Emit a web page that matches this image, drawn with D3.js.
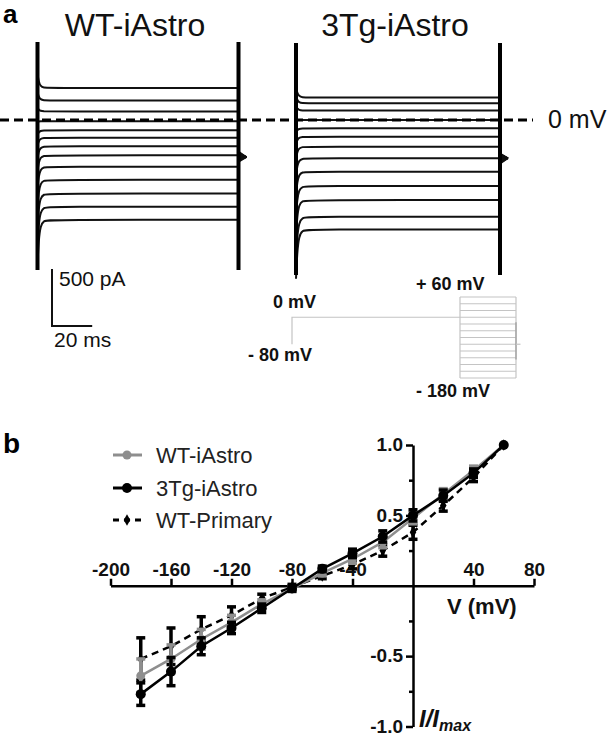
<!DOCTYPE html>
<html><head><meta charset="utf-8">
<script src="https://cdn.jsdelivr.net/npm/d3@7"></script>
<style>
body{margin:0;background:#fff}
svg{display:block}
text{font-family:Arial,'Liberation Sans',Helvetica,sans-serif}
</style>
</head><body>
<script>
// ---------- DATA ----------
// Panel a: steady-state current (pA, relative to the 0 mV dashed line) per voltage step
const stepVoltages = [60, 40, 20, 0, -20, -40, -60, -80, -100, -120, -140, -160, -180];
const wtTraceCurrents = [280, 170, 75, -10, -90, -155, -230, -310, -410, -525, -645, -760, -875];
const tgTraceCurrents = [197, 146, 83, 0, -73, -146, -234, -336, -453, -579, -702, -848, -960];
const holdCurrents = {wt: -325, tg: -335};
const panelTitles = ["WT-iAstro", "3Tg-iAstro"];
const protocolLevels = {hold: -80, pre: 0, top: 60, bottom: -180};

// Panel b: normalized I/V relation
const ivVoltages = [-180, -160, -140, -120, -100, -80, -60, -40, -20, 0, 20, 40, 60];
const wtIAstro    = [-0.64, -0.52, -0.38, -0.26, -0.13, -0.02, 0.09, 0.19, 0.31, 0.48, 0.65, 0.82, 1.0];
const wtIAstroErr = [0.12, 0.10, 0.07, 0.05, 0.03, 0.02, 0.02, 0.03, 0.04, 0.04, 0.04, 0.03, 0];
const tgIAstro    = [-0.77, -0.61, -0.43, -0.30, -0.16, -0.02, 0.12, 0.23, 0.35, 0.50, 0.64, 0.80, 1.0];
const tgIAstroErr = [0.08, 0.10, 0.06, 0.04, 0.03, 0.02, 0.02, 0.03, 0.04, 0.04, 0.04, 0.03, 0];
const wtPrimary    = [-0.52, -0.43, -0.31, -0.21, -0.09, -0.01, 0.07, 0.15, 0.25, 0.38, 0.57, 0.77, 1.0];
const wtPrimaryErr = [0.15, 0.13, 0.09, 0.06, 0.03, 0.02, 0.02, 0.03, 0.04, 0.05, 0.04, 0.03, 0];
const seriesNames = ["WT-iAstro", "3Tg-iAstro", "WT-Primary"];
const xTickValues = [-200, -160, -120, -80, -40, 40, 80];
const yTickValues = [1.0, 0.5, -0.5, -1.0];
const yMinorTickValues = [0.75, 0.25, -0.25, -0.75];

// ---------- SVG ----------
const W = 614, H = 736;
const svg = d3.select("body").append("svg").attr("width", W).attr("height", H);

// ================= PANEL a =================
const iScale = d3.scaleLinear().domain([0, 500]).range([120, 63]); // pA -> px
const panels = [
  {name: panelTitles[0], cur: wtTraceCurrents, hold: holdCurrents.wt, t: d3.scaleLinear().domain([0, 100]).range([37.5, 238.5]), spike: [42, 270]},
  {name: panelTitles[1], cur: tgTraceCurrents, hold: holdCurrents.tg, t: d3.scaleLinear().domain([0, 100]).range([296, 500]), spike: [43, 275]}
];
// shape of the capacitive settling at step onset (rendering only)
const shapeT = [0, 0.6, 1.5, 3, 6, 100];
const shapeK = [1.45, 1.2, 1.06, 1.01, 1, 1];

const ga = svg.append("g");
ga.append("text").attr("x", 3).attr("y", 23).attr("font-size", 26).attr("font-weight", "bold").text("a");

panels.forEach(p => {
  ga.append("text").attr("x", (p.t(0) + p.t(100)) / 2 - 3).attr("y", 36)
    .attr("text-anchor", "middle").attr("font-size", 32).attr("fill", "#111").text(p.name);
  const line = d3.line().x(d => p.t(d[0])).y(d => iScale(d[1])).curve(d3.curveBasis);
  p.cur.forEach(I => {
    const pts = shapeT.map((tt, i) => [tt, I * shapeK[i]]);
    ga.append("path").attr("d", line(pts)).attr("fill", "none")
      .attr("stroke", "#111").attr("stroke-width", 2);
    // tail current converging to holding current
    const yI = iScale(I), yH = iScale(p.hold);
    ga.append("line").attr("x1", p.t(100) + 1).attr("x2", p.t(100) + 8)
      .attr("y1", yH + (yI - yH) * 0.07).attr("y2", yH)
      .attr("stroke", "#111").attr("stroke-width", 1.6);
  });
  // capacitive spikes
  [0, 100].forEach(tt => {
    ga.append("line").attr("x1", p.t(tt)).attr("x2", p.t(tt))
      .attr("y1", p.spike[0]).attr("y2", p.spike[1])
      .attr("stroke", "#000").attr("stroke-width", 4);
  });
});

// 0 mV dashed line
ga.append("line").attr("x1", 0).attr("x2", 533).attr("y1", iScale(0)).attr("y2", iScale(0))
  .attr("stroke", "#000").attr("stroke-width", 3).attr("stroke-dasharray", "9,5");
ga.append("text").attr("x", 548).attr("y", 128).attr("font-size", 25).attr("fill", "#111").text("0 mV");

// scale bar: 500 pA, 20 ms
const sbX = 52, sbY = 326;
const msPx = panels[0].t(20) - panels[0].t(0);
ga.append("path")
  .attr("d", `M${sbX},${sbY - (iScale(0) - iScale(500))}V${sbY}H${sbX + msPx}`)
  .attr("fill", "none").attr("stroke", "#111").attr("stroke-width", 2);
ga.append("text").attr("x", 59).attr("y", 286).attr("font-size", 21).attr("fill", "#111").text("500 pA");
ga.append("text").attr("x", 54).attr("y", 347).attr("font-size", 21).attr("fill", "#111").text("20 ms");

// voltage protocol inset
const pv = d3.scaleLinear().domain([protocolLevels.bottom, protocolLevels.top]).range([378, 297]);
const pt = d3.scaleLinear().domain([-300, 100]).range([292, 516]);
const gp = ga.append("g").attr("fill", "none").attr("stroke", "#c4c4c4").attr("stroke-width", 1.2);
gp.append("path").attr("d", `M${pt(-300)},${pv(protocolLevels.hold)}V${pv(protocolLevels.pre)}H${pt(0)}`);
gp.append("line").attr("x1", pt(0)).attr("x2", pt(0)).attr("y1", pv(protocolLevels.top)).attr("y2", pv(protocolLevels.bottom));
gp.append("line").attr("x1", pt(100)).attr("x2", pt(100)).attr("y1", pv(protocolLevels.top)).attr("y2", pv(protocolLevels.bottom));
stepVoltages.forEach(v => {
  gp.append("line").attr("x1", pt(0)).attr("x2", pt(100)).attr("y1", pv(v)).attr("y2", pv(v));
});
gp.append("line").attr("x1", pt(100)).attr("x2", pt(100)).attr("y1", pv(-15)).attr("y2", pv(-125)).attr("stroke", "#999");
gp.append("line").attr("x1", pt(100)).attr("x2", pt(108)).attr("y1", pv(protocolLevels.hold)).attr("y2", pv(protocolLevels.hold));
const plab = [["0 mV", 273, 308], ["- 80 mV", 248, 361], ["+ 60 mV", 416, 290], ["- 180 mV", 416, 397]];
plab.forEach(d => ga.append("text").attr("x", d[1]).attr("y", d[2]).attr("font-size", 18)
  .attr("font-weight", "bold").attr("fill", "#111").text(d[0]));

// ================= PANEL b =================
const gb = svg.append("g");
gb.append("text").attr("x", 3).attr("y", 453).attr("font-size", 28).attr("font-weight", "bold").text("b");

const x = d3.scaleLinear().domain([-200, 80]).range([110.5, 534]);
const y = d3.scaleLinear().domain([-1, 1]).range([726.5, 445]);

const xAxis = gb.append("g").attr("transform", `translate(0,${y(0)})`)
  .call(d3.axisTop(x).tickValues(xTickValues).tickSize(7).tickSizeOuter(0).tickFormat(d => String(d)));
const yAxis = gb.append("g").attr("transform", `translate(${x(0)},0)`)
  .call(d3.axisLeft(y).tickValues(yTickValues).tickSize(7).tickSizeOuter(0).tickFormat(d => d.toFixed(1)));
const yMinor = gb.append("g").attr("transform", `translate(${x(0)},0)`)
  .call(d3.axisLeft(y).tickValues(yMinorTickValues).tickSize(4).tickSizeOuter(0).tickFormat(""));
yMinor.select(".domain").remove();
[xAxis, yAxis, yMinor].forEach(g => {
  g.selectAll(".domain").attr("stroke", "#000").attr("stroke-width", 2.5);
  g.selectAll(".tick line").attr("stroke", "#000").attr("stroke-width", 2.5);
  g.selectAll(".tick text").attr("font-size", 19).attr("font-weight", "bold").attr("fill", "#111")
    .attr("font-family", "Arial,'Liberation Sans',sans-serif");
});
yAxis.selectAll(".tick text").attr("dy", "0.3em");

gb.append("text").attr("x", 447).attr("y", 614).attr("font-size", 22).attr("font-weight", "bold").attr("fill", "#111").text("V (mV)");
const il = gb.append("text").attr("x", 419).attr("y", 727).attr("font-size", 24).attr("font-weight", "bold")
  .attr("font-style", "italic").attr("fill", "#111");
il.append("tspan").text("I/I");
il.append("tspan").attr("font-size", 16).attr("dy", 4).text("max");

const series = [
  {name: seriesNames[2], v: wtPrimary, e: wtPrimaryErr, color: "#000", dash: "7,5", marker: "diamond", r: 0},
  {name: seriesNames[0], v: wtIAstro, e: wtIAstroErr, color: "#8e8e8e", dash: null, marker: "circle", r: 4.5},
  {name: seriesNames[1], v: tgIAstro, e: tgIAstroErr, color: "#000", dash: null, marker: "circle", r: 5}
];
const lineGen = d3.line().x(d => x(d[0])).y(d => y(d[1]));
const diamond = d3.symbol().type(d3.symbolDiamond).size(38);

series.forEach(s => {
  const g = gb.append("g");
  const pts = ivVoltages.map((v, i) => [v, s.v[i], s.e[i]]);
  // error bars
  pts.forEach(p => {
    if (p[2] <= 0) return;
    const xx = x(p[0]);
    g.append("line").attr("x1", xx).attr("x2", xx).attr("y1", y(p[1] - p[2])).attr("y2", y(p[1] + p[2]))
      .attr("stroke", s.color).attr("stroke-width", 3.5);
    [p[1] - p[2], p[1] + p[2]].forEach(val => {
      g.append("line").attr("x1", xx - 4.5).attr("x2", xx + 4.5).attr("y1", y(val)).attr("y2", y(val))
        .attr("stroke", s.color).attr("stroke-width", 3.5);
    });
  });
  g.append("path").attr("d", lineGen(pts)).attr("fill", "none").attr("stroke", s.color)
    .attr("stroke-width", 2.5).attr("stroke-dasharray", s.dash);
  pts.forEach(p => {
    if (s.marker === "circle") {
      g.append("circle").attr("cx", x(p[0])).attr("cy", y(p[1])).attr("r", s.r).attr("fill", s.color);
    } else {
      g.append("path").attr("d", diamond()).attr("transform", `translate(${x(p[0])},${y(p[1])})`).attr("fill", s.color);
    }
  });
});

// legend
const legend = [
  {s: series[1], y: 455},
  {s: series[2], y: 488},
  {s: series[0], y: 520}
];
legend.forEach(l => {
  const g = gb.append("g");
  g.append("line").attr("x1", 113).attr("x2", 142).attr("y1", l.y).attr("y2", l.y)
    .attr("stroke", l.s.color).attr("stroke-width", 3).attr("stroke-dasharray", l.s.dash ? "6,5" : null);
  if (l.s.marker === "circle") {
    g.append("circle").attr("cx", 127).attr("cy", l.y).attr("r", l.s.r).attr("fill", l.s.color);
  } else {
    g.append("path").attr("d", diamond()).attr("transform", `translate(127,${l.y})`).attr("fill", l.s.color);
  }
  g.append("text").attr("x", 156).attr("y", l.y + 8).attr("font-size", 22).attr("fill", "#222").text(l.s.name);
});
</script>
</body></html>
